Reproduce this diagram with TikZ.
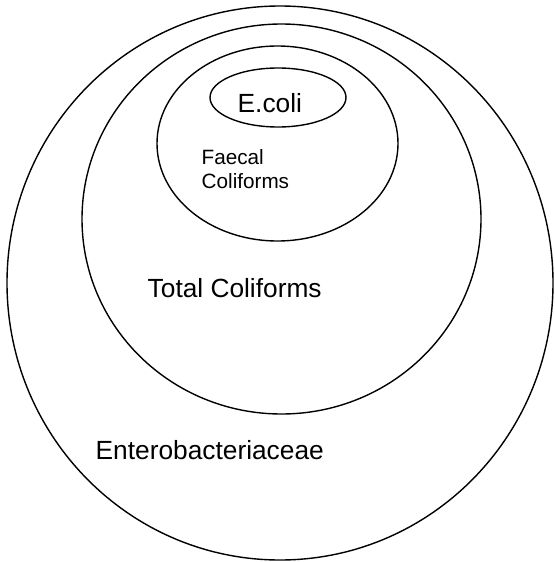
\documentclass[tikz,border=0pt]{standalone}
\usepackage{fontspec}
\setmainfont{Liberation Sans}

\begin{document}
\begin{tikzpicture}[x=0.5pt, y=-0.5pt, line width=0.7pt,
    lbl/.style={inner sep=0pt, anchor=base west, font=\fontsize{13.15}{15}\selectfont},
    small/.style={inner sep=0pt, anchor=base west, align=left, font=\fontsize{10.35}{12}\selectfont}]
    \useasboundingbox (0,0) rectangle (554,562);

    \coordinate (ent) at (280,283);
    \coordinate (tot) at (281.5,219);
    \coordinate (fae) at (277.5,143.5);
    \coordinate (eco) at (278,97.5);

    \draw (ent) ellipse [x radius=273, y radius=277];
    \draw (tot) ellipse [x radius=199.5, y radius=195];
    \draw (fae) ellipse [x radius=120.5, y radius=97.5];
    \draw (eco) ellipse [x radius=68, y radius=29.5];

    \node[lbl] (ecoli) at (237,112) {E.coli};
    \node[small] (faecal) at (201,188) {Faecal\\Coliforms};
    \node[lbl] (total) at (147,297) {Total Coliforms};
    \node[lbl] (entero) at (95,459) {Enterobacteriaceae};
\end{tikzpicture}
\end{document}
